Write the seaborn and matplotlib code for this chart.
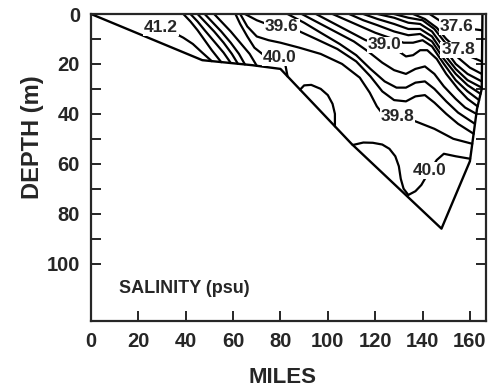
import matplotlib
matplotlib.use("Agg")
import matplotlib.pyplot as plt
import pandas as pd
import seaborn as sns

# bottom / section outline (miles, depth m)
bottom_mi = [0, 47, 68, 80, 110, 148, 160, 163, 165, 165.3]
bottom_m = [0, 18.5, 20.5, 22, 52, 86, 59, 38, 30, 0]

iso_412 = [(24, 4.5), (29.5, 5.6), (35, 7.5), (39, 9.5), (43, 12), (47, 15.5), (51, 18.9)]
iso_410 = [(39, 0), (42, 3), (45, 6.5), (48, 10.5), (51, 14.5), (55, 19.3)]
iso_408 = [(42, 0), (45, 3), (48, 6.5), (52, 11), (56, 15.5), (59, 19.6)]
iso_406 = [(45, 0), (48, 3), (52, 7), (56, 11.5), (59.5, 16), (62, 19.9)]
iso_404 = [(48, 0), (51, 3), (55, 7), (59, 11.5), (62.5, 16), (65, 20.2)]
iso_402 = [(52, 0), (55, 3), (59, 7), (63, 11.5), (67, 16), (70, 20.75)]
iso_400w = [(61, 0), (63, 4), (66, 9), (69, 13.5), (73, 16.5), (79.7, 17.6), (82, 20), (83, 25)]
iso_400lens = [(88.3, 30.3), (90, 28.6), (93, 28.4), (97, 30), (100, 32.5), (102, 36), (103, 40), (103, 45)]
iso_400e = [(110.5, 52.5), (115, 51.5), (119, 51.6), (123, 52.3), (126, 54), (128.5, 57), (130, 61),
            (130.8, 66), (132, 70), (134, 72.5), (137, 71), (139.5, 68.5), (143, 62.8), (146, 58.5),
            (149, 56), (154, 57), (160.1, 58)]
iso_398 = [(63, 0), (66, 5), (70, 9), (75, 10.5), (80, 11.5), (88, 13.5), (97, 16), (106, 20),
           (113.5, 25.5), (117.7, 31.5), (120.7, 37), (123.5, 40.5), (129.5, 41.2), (137, 43),
           (145, 46), (153, 50), (161, 52)]
iso_396 = [(65, 0), (70, 2.5), (75, 4.3), (80.6, 5.2), (87, 6.5), (95, 10), (104, 14), (112, 19),
           (118, 25), (123, 31), (128, 34.5), (133, 35), (137, 33), (141, 32.5), (145, 35.5),
           (150, 40), (155, 44), (161.6, 48)]
iso_394 = [(83, 0), (90, 3.5), (97, 7.5), (105, 12), (112, 16.5), (118, 22), (124, 27), (129, 29.5),
           (133, 29.5), (137, 27.5), (141, 27), (145, 30), (150, 35), (155, 39.5), (162.1, 44)]
iso_392 = [(89, 0), (96, 3.5), (104, 7.5), (111, 11), (117, 15), (123, 19.5), (128, 22.5), (133, 24),
           (137, 22), (141, 21), (145, 24), (149, 29), (154, 34), (158, 37.5), (162.7, 40)]
iso_390 = [(95, 0), (102, 3.5), (109, 7), (116, 10.5), (124, 12.4), (130, 15), (133, 17), (136, 16.5),
           (139, 14.5), (142, 14.5), (146, 18), (150, 24), (155, 30), (159, 34), (163.25, 37)]
iso_388 = [(102, 0), (108, 2.5), (114, 5), (120, 7.5), (126, 9.5), (132, 11.5), (136, 11.5),
           (140, 10.5), (144, 13), (149, 20), (154, 26.5), (159, 31), (163.9, 34.5)]
iso_386 = [(109, 0), (115, 2.5), (121, 4.5), (128, 7), (134, 8.5), (139, 8), (144, 11), (149, 18),
           (154, 24), (159, 28.5), (164.5, 32)]
iso_384 = [(115, 0), (121, 2), (128, 4), (134, 6), (139, 6), (144, 9), (149, 16), (154, 22),
           (159, 26.5), (165, 29.5)]
iso_382 = [(121, 0), (128, 1.5), (134, 3.5), (139, 4), (144, 7), (149, 13.5), (154, 20), (159, 24),
           (165, 27)]
iso_380 = [(128, 0), (134, 1.5), (140, 2.5), (145, 6), (150, 12), (155, 17.5), (160, 21.5), (165, 24)]
iso_378 = [(136, 0), (141, 2), (146, 5.5), (150, 10), (155, 14.4), (160, 17), (165, 19)]
iso_376 = [(143, 0), (147, 2.5), (151, 4.3), (154.5, 5.2), (159, 5.8), (165, 6.5)]

isohalines = [("41.2", iso_412), ("41.0", iso_410), ("40.8", iso_408), ("40.6", iso_406),
              ("40.4", iso_404), ("40.2", iso_402), ("40.0w", iso_400w), ("40.0lens", iso_400lens),
              ("40.0e", iso_400e), ("39.8", iso_398), ("39.6", iso_396), ("39.4", iso_394),
              ("39.2", iso_392), ("39.0", iso_390), ("38.8", iso_388), ("38.6", iso_386),
              ("38.4", iso_384), ("38.2", iso_382), ("38.0", iso_380), ("37.8", iso_378),
              ("37.6", iso_376)]

# contour labels
label_text = ["41.2", "39.6", "40.0", "39.0", "37.6", "37.8", "39.8", "40.0"]
label_mi = [29.5, 80.6, 79.7, 124, 154.5, 155, 129.5, 143]
label_m = [5.6, 5.2, 17.6, 12.4, 5.2, 14.4, 41.2, 62.8]

rows = []
for name, pts in isohalines:
    for i, (mi, d) in enumerate(pts):
        rows.append({"line": name, "mile": mi, "depth": d, "order": i})
df = pd.DataFrame(rows)

sns.set_style("ticks")
plt.rcParams["font.family"] = ["Liberation Sans", "DejaVu Sans"]

fig = plt.figure(figsize=(4.91, 3.88), dpi=100)
ax = fig.add_axes([91 / 491, 1 - 321 / 388, (486 - 91) / 491, (321 - 14) / 388])

sns.lineplot(data=df, x="mile", y="depth", units="line", estimator=None, sort=False,
             color="black", linewidth=1.6, ax=ax)
sns.lineplot(x=bottom_mi, y=bottom_m, sort=False, estimator=None, color="black",
             linewidth=1.7, ax=ax)

for t, mi, d in zip(label_text, label_mi, label_m):
    ax.text(mi, d, t, ha="center", va="center", fontsize=12.5, fontweight="bold",
            bbox=dict(fc="white", ec="none", pad=0.6), zorder=5)

ax.text(12, 110, "SALINITY (psu)", ha="left", va="center", fontsize=13, fontweight="bold")

ax.set_xlim(0, 166.8)
ax.set_ylim(123, 0)
ax.set_xticks(range(0, 161, 20))
ax.set_yticks(range(0, 101, 20))
ax.set_yticks(range(10, 100, 20), minor=True)
ax.tick_params(axis="both", which="both", direction="in", width=1.4, length=7,
               top=False, right=True, labelsize=14.5, pad=8)
for lab in ax.get_xticklabels() + ax.get_yticklabels():
    lab.set_fontweight("bold")
for sp in ax.spines.values():
    sp.set_linewidth(1.6)
    sp.set_visible(True)

ax.set_xlabel("MILES", fontsize=16, fontweight="bold")
ax.set_ylabel("DEPTH (m)", fontsize=17, fontweight="bold")
ax.xaxis.set_label_coords(0.486, -0.150)
ax.yaxis.set_label_coords(-0.118, 0.60)

fig.savefig("out.png", dpi=100)
